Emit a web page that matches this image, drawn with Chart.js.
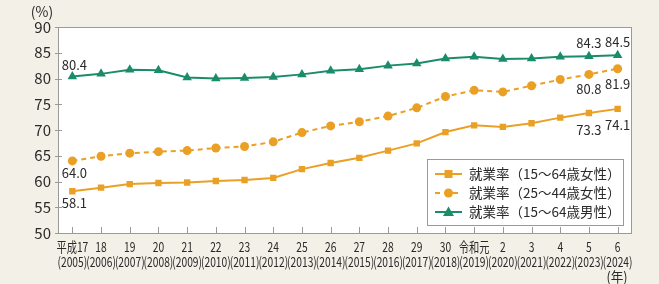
<!DOCTYPE html>
<html>
<head>
<meta charset="utf-8">
<script src="https://cdn.jsdelivr.net/npm/chart.js@4/dist/chart.umd.min.js"></script>
<style>
  html, body { margin: 0; padding: 0; background: #f3f0e7; }
  canvas { display: block; }
</style>
</head>
<body>
<canvas id="chart" width="659" height="284"></canvas>
<script>
const eraLabels = ["平成17", "18", "19", "20", "21", "22", "23", "24", "25", "26", "27", "28", "29", "30", "令和元", "2", "3", "4", "5", "6"];
const years = ["2005", "2006", "2007", "2008", "2009", "2010", "2011", "2012", "2013", "2014", "2015", "2016", "2017", "2018", "2019", "2020", "2021", "2022", "2023", "2024"];

const women15to64 = [58.1, 58.8, 59.5, 59.7, 59.8, 60.1, 60.3, 60.7, 62.4, 63.6, 64.6, 66.0, 67.4, 69.6, 70.9, 70.6, 71.3, 72.4, 73.3, 74.1];
const women25to44 = [64.0, 64.9, 65.5, 65.8, 66.0, 66.5, 66.8, 67.7, 69.5, 70.8, 71.6, 72.7, 74.3, 76.5, 77.7, 77.4, 78.6, 79.8, 80.8, 81.9];
const men15to64 = [80.4, 80.9, 81.7, 81.6, 80.2, 80.0, 80.1, 80.3, 80.8, 81.5, 81.8, 82.5, 82.9, 83.9, 84.2, 83.8, 83.9, 84.2, 84.3, 84.5];

const seriesNames = ["就業率（15～64歳女性）", "就業率（25～44歳女性）", "就業率（15～64歳男性）"];
const yTicks = [50, 55, 60, 65, 70, 75, 80, 85, 90];

const ORANGE = "#eaa024";
const GREEN = "#1b8c6a";
const FRAME = "#9a9a9a";
const TEXT = "#2a2a2a";
const FONT = '"Noto Sans CJK JP", "Noto Sans", sans-serif';

// which points get a value label, and where (dx, dy from the point)
const valueLabels = [
  { ds: 0, idx: 0, dx: 2, dy: 12 },
  { ds: 0, idx: 18, dx: 0, dy: 17 },
  { ds: 0, idx: 19, dx: 0, dy: 16 },
  { ds: 1, idx: 0, dx: 2, dy: 12 },
  { ds: 1, idx: 18, dx: 0, dy: 15 },
  { ds: 1, idx: 19, dx: 0, dy: 15 },
  { ds: 2, idx: 0, dx: 2, dy: -11 },
  { ds: 2, idx: 18, dx: 0, dy: -13 },
  { ds: 2, idx: 19, dx: 0, dy: -13 }
];

const decorPlugin = {
  id: "decor",
  beforeDraw(chart) {
    const { ctx, chartArea: a } = chart;
    ctx.save();
    ctx.fillStyle = "#ffffff";
    ctx.fillRect(a.left, a.top, a.right - a.left, a.bottom - a.top);
    ctx.restore();
  },
  beforeDatasetsDraw(chart) {
    const { ctx, chartArea: a, scales } = chart;
    ctx.save();
    ctx.strokeStyle = FRAME;
    ctx.lineWidth = 1;
    ctx.strokeRect(a.left + 0.5, a.top + 0.5, a.right - a.left - 1, a.bottom - a.top);
    // y ticks
    yTicks.forEach(v => {
      const y = Math.round(scales.y.getPixelForValue(v)) + 0.5;
      ctx.beginPath();
      ctx.moveTo(a.left - 3, y);
      ctx.lineTo(a.left + 4, y);
      ctx.stroke();
    });
    // x ticks + condensed two-line labels
    ctx.fillStyle = TEXT;
    ctx.textAlign = "center";
    ctx.textBaseline = "middle";
    ctx.font = "13.5px " + FONT;
    eraLabels.forEach((lab, i) => {
      const px = scales.x.getPixelForValue(i);
      const x = Math.round(px) + 0.5;
      ctx.beginPath();
      ctx.moveTo(x, a.bottom);
      ctx.lineTo(x, a.bottom - 6);
      ctx.stroke();
      ctx.save();
      ctx.translate(px, 0);
      ctx.scale(0.76, 1);
      ctx.fillText(lab, 0, 247);
      ctx.fillText("(" + years[i] + ")", 0, 262);
      ctx.restore();
    });
    ctx.restore();
  },
  afterDraw(chart) {
    const { ctx } = chart;
    ctx.save();
    ctx.fillStyle = TEXT;
    ctx.font = "14px " + FONT;
    ctx.textAlign = "center";
    ctx.textBaseline = "middle";
    ctx.fillText("(%)", 42, 12);
    ctx.save();
    ctx.translate(617, 277);
    ctx.scale(0.9, 1);
    ctx.font = "14px " + FONT;
    ctx.fillText("(年)", 0, 0);
    ctx.restore();

    // value labels
    valueLabels.forEach(l => {
      const pt = chart.getDatasetMeta(l.ds).data[l.idx];
      const val = chart.data.datasets[l.ds].data[l.idx];
      ctx.font = "13px " + FONT;
      ctx.fillText(val.toFixed(1), pt.x + l.dx, pt.y + l.dy);
    });

    // legend box
    const bx = 427, by = 159, bw = 196, bh = 66;
    ctx.fillStyle = "#ffffff";
    ctx.fillRect(bx, by, bw, bh);
    ctx.strokeStyle = FRAME;
    ctx.lineWidth = 1;
    ctx.strokeRect(bx + 0.5, by + 0.5, bw, bh);
    chart.data.datasets.forEach((ds, i) => {
      const cy = 174 + i * 19;
      ctx.strokeStyle = ds.borderColor;
      ctx.lineWidth = 2;
      ctx.setLineDash(ds.borderDash || []);
      ctx.beginPath();
      ctx.moveTo(435, cy);
      ctx.lineTo(462, cy);
      ctx.stroke();
      ctx.setLineDash([]);
      ctx.fillStyle = ds.pointBackgroundColor;
      ctx.beginPath();
      if (ds.pointStyle === "rect") {
        ctx.rect(444.5, cy - 4, 8, 8);
      } else if (ds.pointStyle === "circle") {
        ctx.arc(448.5, cy, 4.5, 0, Math.PI * 2);
      } else {
        ctx.moveTo(448.5, cy - 5.5);
        ctx.lineTo(454, cy + 4);
        ctx.lineTo(443, cy + 4);
        ctx.closePath();
      }
      ctx.fill();
      ctx.fillStyle = TEXT;
      ctx.font = "13.5px " + FONT;
      ctx.textAlign = "left";
      ctx.fillText(ds.label, 469, cy);
    });
    ctx.restore();
  }
};

new Chart(document.getElementById("chart"), {
  type: "line",
  data: {
    labels: eraLabels.map((e, i) => [e, "(" + years[i] + ")"]),
    datasets: [
      {
        label: seriesNames[0],
        data: women15to64,
        borderColor: ORANGE,
        backgroundColor: ORANGE,
        pointBackgroundColor: ORANGE,
        pointBorderWidth: 0,
        pointStyle: "rect",
        pointRadius: 4.5,
        borderWidth: 2,
        tension: 0
      },
      {
        label: seriesNames[1],
        data: women25to44,
        borderColor: ORANGE,
        backgroundColor: ORANGE,
        pointBackgroundColor: ORANGE,
        pointBorderWidth: 0,
        pointStyle: "circle",
        pointRadius: 4.5,
        borderWidth: 2,
        borderDash: [5, 4],
        tension: 0
      },
      {
        label: seriesNames[2],
        data: men15to64,
        borderColor: GREEN,
        backgroundColor: GREEN,
        pointBackgroundColor: GREEN,
        pointBorderWidth: 0,
        pointStyle: "triangle",
        pointRadius: 5.5,
        borderWidth: 2,
        tension: 0
      }
    ]
  },
  options: {
    responsive: false,
    animation: false,
    layout: { padding: { top: 27, right: 27, left: 0, bottom: 0 } },
    plugins: {
      legend: { display: false },
      tooltip: { enabled: false }
    },
    scales: {
      x: {
        offset: true,
        grid: { display: false },
        border: { display: false },
        afterFit(scale) { scale.height = 51; },
        ticks: { display: false, autoSkip: false }
      },
      y: {
        min: 50,
        max: 90,
        grid: { display: false, drawTicks: false },
        border: { display: false },
        afterFit(scale) { scale.width = 58; },
        ticks: {
          stepSize: 5,
          padding: 7,
          color: TEXT,
          font: { family: FONT, size: 15 }
        }
      }
    }
  },
  plugins: [decorPlugin]
});
</script>
</body>
</html>
